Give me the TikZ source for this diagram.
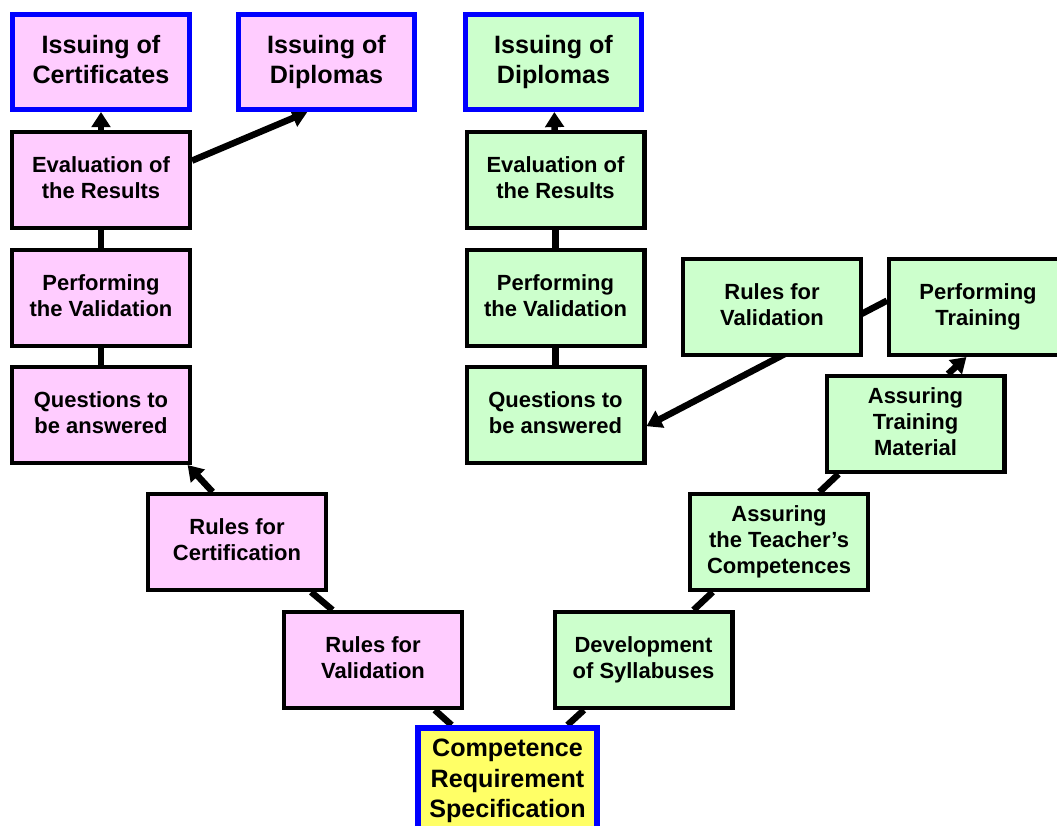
\documentclass[tikz,border=0pt]{standalone}
\usepackage{fontspec}
\setmainfont{Liberation Sans}
\usetikzlibrary{arrows.meta, backgrounds}
\definecolor{mypink}{rgb}{1.0,0.8,1.0}
\definecolor{mygreen}{rgb}{0.8,1.0,0.8}
\definecolor{myyellow}{rgb}{1.0,1.0,0.4}
\definecolor{myblue}{rgb}{0.0,0.0,1.0}

\begin{document}
\begin{tikzpicture}[x=0.02cm, y=-0.02cm, >={Triangle[length=8.6pt, width=10.5pt]},
    stage/.style={draw=black, line width=2.3pt, minimum width=3.56cm, minimum height=1.92cm, inner sep=0pt, align=center, font=\fontsize{12.5}{14.8}\selectfont\bfseries, execute at begin node=\rule{0pt}{14pt}, execute at end node=\rule[-3pt]{0pt}{3pt}},
    goal/.style={stage, draw=myblue, line width=2.85pt, minimum width=3.54cm, minimum height=1.9cm, font=\fontsize{14.3}{17}\selectfont\bfseries, execute at begin node=\rule{0pt}{15.5pt}},
    link/.style={line width=3.7pt}]
    \useasboundingbox (0,0) rectangle (1057,825);
    % certification side
    \node[goal, fill=mypink] (certp) at (101,62) {Issuing of\\Certificates};
    \node[goal, fill=mypink] (diplp) at (326.5,62) {Issuing of\\Diplomas};
    \node[stage, fill=mypink] (evalp) at (101,180) {Evaluation of\\the Results};
    \node[stage, fill=mypink] (perfp) at (101,298) {Performing\\the Validation};
    \node[stage, fill=mypink] (quesp) at (101,415) {Questions to\\be answered};
    \node[stage, fill=mypink] (certr) at (237,542) {Rules for\\Certification};
    \node[stage, fill=mypink] (valp) at (373,660) {Rules for\\Validation};
    \node[goal, fill=myyellow, line width=3.4pt, minimum width=3.58cm, minimum height=2.12cm, font=\fontsize{14.3}{17.4}\selectfont\bfseries] (crs) at (507.5,781) {Competence\\Requirement\\Specification};
    % training side
    \node[goal, fill=mygreen] (diplg) at (553.5,62) {Issuing of\\Diplomas};
    \node[stage, fill=mygreen] (evalg) at (555.5,180) {Evaluation of\\the Results};
    \node[stage, fill=mygreen] (perfg) at (555.5,298) {Performing\\the Validation};
    \node[stage, fill=mygreen] (quesg) at (555.5,415) {Questions to\\be answered};
    \node[stage, fill=mygreen] (valg) at (772,307) {Rules for\\Validation};
    \node[stage, fill=mygreen] (traing) at (978,307) {Performing\\Training};
    \node[stage, fill=mygreen] (matg) at (915.5,424) {Assuring\\Training\\Material};
    \node[stage, fill=mygreen] (teachg) at (779,542) {Assuring\\the Teacher’s\\Competences};
    \node[stage, fill=mygreen] (sylg) at (643.5,660) {Development\\of Syllabuses};
    \begin{scope}[on background layer]
        \draw[link] (crs.135) -- (valp.-39);
        \draw[link] (valp.129) -- (certr.-34);
        \draw[link, ->] (certr.116) -- (quesp.-30);
        \draw[link] (quesp) -- (perfp);
        \draw[link] (perfp) -- (evalp);
        \draw[link, ->] (evalp) -- (certp);
        \draw[link, ->] (evalp.12) -- (diplp.249);
        \draw[link] (crs.43) -- (sylg.220);
        \draw[link] (sylg.45) -- (teachg.217);
        \draw[link] (teachg.51) -- (matg.213);
        \draw[link, ->] (matg.57) -- (traing.257);
        \draw[link, ->] (traing.176) -- (quesg.-7);
        \draw[link] (quesg) -- (perfg);
        \draw[link] (perfg) -- (evalg);
        \draw[link, ->] (evalg) -- (diplg);
    \end{scope}
\end{tikzpicture}
\end{document}
